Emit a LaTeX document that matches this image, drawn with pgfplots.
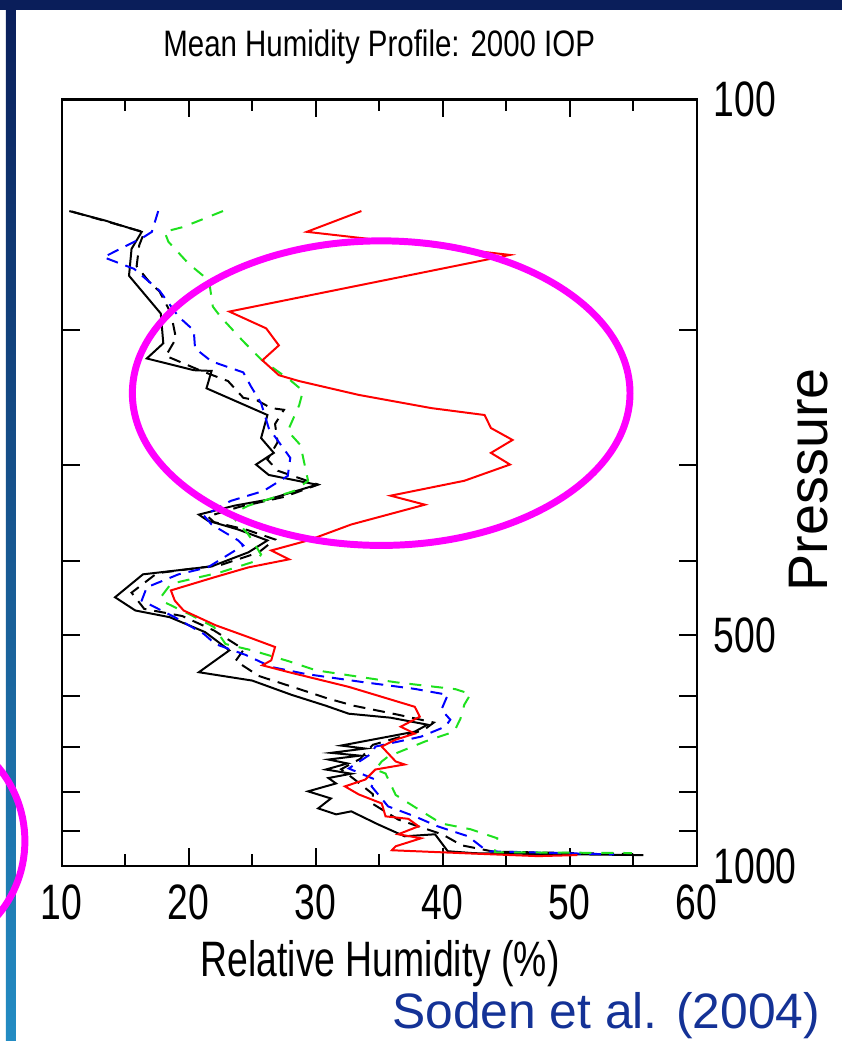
\documentclass[border=0pt]{standalone}
\usepackage{fontspec}
\setmainfont{Liberation Sans}
\newfontfamily\narrowA[FakeStretch=0.8]{Liberation Sans}
\newfontfamily\narrowB[FakeStretch=0.75]{Liberation Sans}
\usepackage{pgfplots}
\pgfplotsset{compat=1.18}
\definecolor{navy}{RGB}{10,30,90}
\definecolor{barlow}{RGB}{35,140,195}
\definecolor{citeblue}{RGB}{20,50,150}
\definecolor{mygreen}{RGB}{30,225,30}
\definecolor{pinkmag}{RGB}{255,0,255}
\begin{document}
\begin{tikzpicture}
\begin{scope}[x=0.5pt,y=-0.5pt]
\useasboundingbox (0,0) rectangle (846,1045);
\fill[white] (0,0) rectangle (846,1045);
\shade[top color=navy, bottom color=barlow] (6,0) rectangle (16,1045);
\fill[navy] (0,0) rectangle (846,10);
\end{scope}
\begin{axis}[
  at={(31pt,-435pt)}, anchor=south west,
  width=319pt, height=385pt, scale only axis,
  xmin=10, xmax=60, ymode=log, ymin=100, ymax=1000, y dir=reverse,
  xtick={10,20,30,40,50,60},
  minor xtick={15,25,35,45,55},
  ytick={100,200,300,400,500,600,700,800,900,1000},
  yticklabels={100,,,,500,,,,,1000},
  yticklabel pos=right,
  tick pos=both, tick align=inside,
  major tick length=9pt, minor tick length=6pt,
  axis line style={line width=1.1pt},
  every tick/.style={black, line width=0.9pt},
  /pgf/number format/assume math mode=true,
  ticklabel style={font=\narrowB\fontsize{25}{25}\selectfont},
  xticklabel style={yshift=-6pt},
  yticklabel style={anchor=west, xshift=5pt},
  clip=false,
]
\addplot[black, line width=1pt] coordinates {
(10.6,139.8)(13.4,143.8)(16.3,148.8)(15.5,156.6)(15.3,169.8)(17.8,190.2)(18.0,208.0)(16.7,217.7)(20.4,225.5)(21.8,226.0)(21.4,238.1)(26.2,258.0)(25.7,276.5)(26.7,289.1)(25.3,299.4)(26.3,308.9)(30.1,318.1)(26.2,332.8)(23.6,338.8)(20.8,348.0)(21.5,354.4)(23.9,364.0)(26.2,376.1)(24.7,389.8)(21.8,406.6)(16.4,416.4)(14.2,446.1)(15.8,464.2)(18.5,473.6)(21.3,495.4)(23.2,523.3)(20.8,558.8)(25.0,573.0)(28.1,598.1)(30.8,618.0)(32.6,633.0)(35.9,640.6)(38.8,654.2)(37.8,668.1)(32.0,696.6)(33.9,702.8)(31.2,712)(33.5,718)(31.0,726.4)(32.5,735)(30.8,748.6)(32.8,758)(31.0,768)(31.6,780.6)(29.4,799.4)(31.2,816.5)(30.2,841.2)(31.6,856.5)(32.8,848.8)(34.9,882.5)(37.0,914.8)(39.4,909.3)(40.4,956.8)(42.5,962.5)(55.8,968)};
\addplot[black, line width=1pt, dash pattern=on 6pt off 4pt] coordinates {
(10.8,140)(16.5,149)(16.1,155)(15.9,165)(16.9,173)(17.7,178)(18.6,190)(19.0,205)(18.2,216)(21.0,226)(23.1,233)(24.3,245)(25.4,247)(26.5,252.7)(27.5,254)(26.8,265)(27.0,280)(26.2,295)(27.0,305)(30.2,318)(27.5,330)(24.0,340)(21.5,350)(22.0,356)(24.5,364)(26.8,375)(25.5,390)(22.5,405)(17.5,415)(15.5,440)(16.5,462)(19.5,472)(22.0,493)(23.8,515)(24.3,523)(23.7,540)(25.5,565)(29.0,590)(31.0,605)(33.0,618)(36.5,635)(39.3,650)(38.5,665)(34.5,695)(33.5,725)(32.0,748)(33.0,770)(34.5,806)(34.5,830)(36.5,870)(40.0,910)(41.5,940)(44,958)(55,965)};
\addplot[blue, line width=1pt, dash pattern=on 6pt off 4pt] coordinates {
(17.6,139.8)(17.1,148.8)(16.5,151.0)(13.3,160.6)(15.7,166.3)(17.7,177.6)(19.2,192.0)(20.4,200.1)(20.5,211.2)(21.8,219.6)(24.3,227.0)(24.9,236.7)(25.7,249.0)(26.3,268.3)(28.0,293.5)(27.8,309.8)(25.9,324.1)(23.3,334.0)(21.2,349.1)(21.8,358.5)(23.9,376.1)(24.3,381.8)(21.5,407.8)(19.2,416.4)(16.7,432.9)(16.3,450.5)(18.9,473.6)(21.2,498.2)(22.1,513.4)(24.5,530.6)(26.5,550.0)(29.2,561.7)(33.6,575.3)(37.8,587.5)(40.4,598.1)(39.9,625.4)(40.6,644.5)(40.2,658.1)(38.3,678.1)(34.7,698.7)(34.4,713.5)(32.6,746.3)(34.7,771.7)(34.4,787.6)(35.7,836.2)(37.8,861.6)(39.6,887.8)(42.0,914.8)(43.5,956.8)(53.5,966)};
\addplot[mygreen, line width=1pt, dash pattern=on 6pt off 5pt] coordinates {
(22.7,139.8)(19.6,146.6)(18.1,148.8)(18.4,153.3)(20.0,163.8)(21.6,172.3)(21.9,186.3)(22.5,192.0)(24.3,206.8)(25.7,218.3)(28.0,232.4)(29.0,240.0)(28.7,250.5)(27.8,270.7)(28.8,282.4)(29.4,314.4)(28.3,324.1)(24.7,338.8)(23.3,348.0)(24.7,369.5)(25.7,392.2)(25.4,399.6)(22.5,413.9)(18.6,428.4)(17.8,446.1)(18.1,452.8)(20.2,470.8)(22.0,488.0)(22.9,513.4)(25.0,523.3)(27.9,540.8)(30.0,555.5)(32.6,563.9)(36.3,575.9)(41.0,588.0)(42.2,596.6)(41.7,616.1)(41.4,642.4)(40.9,668.1)(38.6,688.2)(35.7,719.9)(35.2,730.7)(34.7,748.6)(35.5,757.6)(36.3,808.0)(38.1,843.8)(39.9,880.3)(42.2,895.7)(44.3,920.3)(44.1,959.7)(54.9,962)};
\addplot[red, line width=1pt] coordinates {
(33.6,139.8)(29.3,148.8)(45.3,159.5)(23.2,189.1)(26.1,198.9)(27.1,209.3)(25.8,218.9)(27.1,228.9)(28.7,233.0)(33.4,242.9)(39.1,252.7)(43.3,258.0)(43.8,268.3)(45.5,278.1)(43.8,289.1)(45.3,299.4)(41.7,314.4)(35.9,328.8)(38.6,337.8)(32.8,358.5)(29.4,376.1)(26.5,387.6)(27.9,398.1)(24.7,407.8)(22.0,420.2)(18.6,437.0)(18.9,450.5)(19.6,464.2)(22.1,485.1)(24.7,502.8)(26.8,518.0)(26.5,539.2)(25.8,547.3)(27.9,558.8)(32.6,583.9)(37.8,619.9)(38.2,638.7)(36.7,658.1)(37.8,672.0)(36.3,684.3)(35.2,698.7)(36.3,730.7)(37.0,737.4)(34.7,748.6)(33.9,771.7)(32.3,787.6)(33.4,806.8)(35.2,828.8)(35.5,861.6)(37.3,868.1)(38.1,887.8)(36.5,909.3)(38.3,920.3)(36.3,942.6)(36.0,954)(42.0,963)(47.5,971)(50.6,968)};
\end{axis}
\begin{scope}[x=0.5pt,y=-0.5pt]
\node[font=\narrowA\fontsize{18.5}{20}\selectfont] at (381,47) {Mean Humidity Profile: 2000 IOP};
\node[font=\narrowB\fontsize{25}{28}\selectfont] at (382,968) {Relative Humidity (\%)};
\node[font=\fontsize{28}{30}\selectfont, rotate=90] at (812,482) {Pressure};
\node[font=\fontsize{25}{28}\selectfont, text=citeblue] at (609,1020) {Soden et al. (2004)};
\draw[pinkmag, line width=3.5pt] (383,395) ellipse [x radius=250, y radius=153];
\begin{scope}
\clip (0,0) rectangle (846,1045);
\draw[pinkmag, line width=3.5pt] (-91,845) circle [radius=116];
\end{scope}
\end{scope}
\end{tikzpicture}
\end{document}
